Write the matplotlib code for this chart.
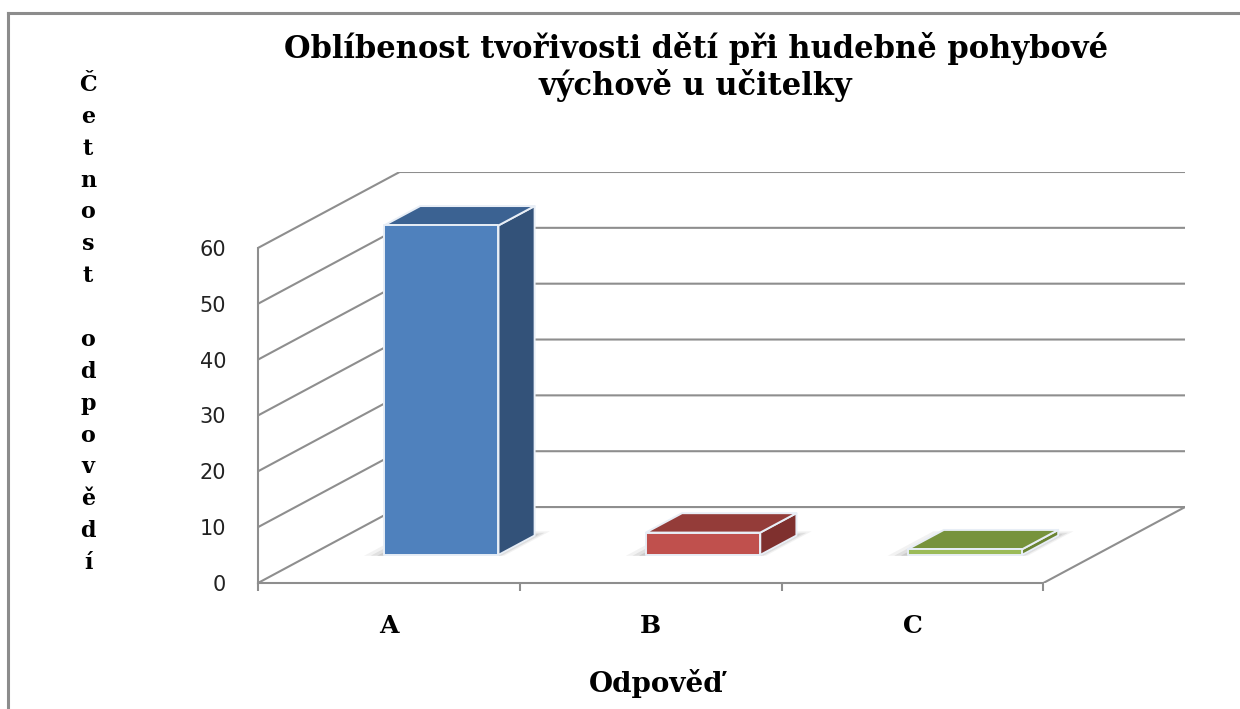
import matplotlib
matplotlib.use("Agg")
import matplotlib.pyplot as plt
from matplotlib.patches import Polygon
from matplotlib.lines import Line2D

# ---- data ----
categories = ["A", "B", "C"]
values = [59, 4, 1]
y_ticks = [0, 10, 20, 30, 40, 50, 60]
title = "Oblíbenost tvořivosti dětí při hudebně pohybové\nvýchově u učitelky"
x_label = "Odpověď"
y_label = "Četnost odpovědí"

front_colors = ["#4F81BD", "#C0504D", "#9BBB59"]
top_colors = ["#3B6292", "#943C39", "#77933C"]
side_colors = ["#335279", "#7F302E", "#6A8433"]

# ---- oblique 3D geometry (in data units) ----
DX = 0.541   # depth offset along x (category units) for full depth
DY = 13.6    # depth offset along y (value units) for full depth
Z0, Z1 = 0.37, 0.625   # bar depth range (fraction of floor depth)
BAR_W = 0.437
grid_c = "#8E8E8E"

def proj(x, y, z):
    return (x + z * DX, y + z * DY)

fig = plt.figure(figsize=(12.4, 7.09), dpi=100)
ax = fig.add_axes([258 / 1240, (709 - 583) / 709, (1185 - 258) / 1240, (583 - 172) / 709])
n = len(categories)
ymax = max(y_ticks)
ax.set_xlim(0, n + DX)
ax.set_ylim(0, ymax + DY)

# spines / ticks
for s in ["top", "right"]:
    ax.spines[s].set_visible(False)
for s in ["left", "bottom"]:
    ax.spines[s].set_color(grid_c)
    ax.spines[s].set_linewidth(1.5)
ax.spines["left"].set_bounds(0, ymax)
ax.spines["bottom"].set_bounds(0, n)
ax.set_yticks(y_ticks)
ax.set_yticklabels([str(v) for v in y_ticks], fontsize=15, color="#222222",
                   family="DejaVu Sans")
ax.tick_params(axis="y", length=0, pad=23)
ax.set_xticks(range(n + 1))
ax.set_xticklabels([])
ax.tick_params(axis="x", which="major", length=6, width=1.5, color=grid_c, direction="out")
ax.set_xticks([i + 0.5 for i in range(n)], minor=True)
ax.set_xticklabels(categories, minor=True, fontsize=18, fontweight="bold",
                   family="DejaVu Serif")
ax.tick_params(axis="x", which="minor", length=0, pad=22)

# walls / gridlines
for v in y_ticks:
    p0 = proj(0, v, 0)
    p1 = proj(0, v, 1)
    p2 = proj(n, v, 1)
    ax.plot([p0[0], p1[0], p2[0]], [p0[1], p1[1], p2[1]], color=grid_c, lw=1.5,
            solid_capstyle="butt", zorder=1)
# floor right edge
f0 = proj(n, 0, 0)
f1 = proj(n, 0, 1)
ax.plot([f0[0], f1[0]], [f0[1], f1[1]], color=grid_c, lw=1.5, zorder=1)

# bars
for i, (v, fc, tc, sc) in enumerate(zip(values, front_colors, top_colors, side_colors)):
    xl = i + 0.5 - BAR_W / 2
    xr = i + 0.5 + BAR_W / 2
    # soft shadow on the floor
    for k, a in enumerate([0.08, 0.12, 0.16]):
        g = 0.07 - k * 0.025
        shadow = [proj(xl - g, 0, Z0 - 0.012), proj(xr + g * 0.4, 0, Z0 - 0.012),
                  proj(xr + g * 0.4, 0, Z1 + g * 0.8), proj(xl - g, 0, Z1 + g * 0.8)]
        ax.add_patch(Polygon(shadow, closed=True, facecolor="#606060", alpha=a,
                             edgecolor="none", zorder=2))
    front = [proj(xl, 0, Z0), proj(xr, 0, Z0), proj(xr, v, Z0), proj(xl, v, Z0)]
    top = [proj(xl, v, Z0), proj(xr, v, Z0), proj(xr, v, Z1), proj(xl, v, Z1)]
    side = [proj(xr, 0, Z0), proj(xr, 0, Z1), proj(xr, v, Z1), proj(xr, v, Z0)]
    for poly, c in [(side, sc), (top, tc), (front, fc)]:
        ax.add_patch(Polygon(poly, closed=True, facecolor=c, edgecolor="#E8EEF6",
                             lw=1.4, joinstyle="round", zorder=3))

# texts
fig.text(0.561, 1 - 67 / 709, title, ha="center", va="center", fontsize=22,
         fontweight="bold", family="DejaVu Serif", linespacing=1.12)
fig.text(656 / 1240, 1 - 684 / 709, x_label, ha="center", va="center", fontsize=20,
         fontweight="bold", family="DejaVu Serif")
fig.text(88 / 1240, 1 - 324 / 709, "\n".join(list(y_label)), ha="center", va="center",
         fontsize=16, fontweight="bold", family="DejaVu Serif", linespacing=1.58)

# chart border
fig.add_artist(Line2D([8 / 1240, 8 / 1240], [0, 1 - 13 / 709], transform=fig.transFigure,
                      color="#8C8C8C", lw=2.2))
fig.add_artist(Line2D([8 / 1240, 1], [1 - 13 / 709, 1 - 13 / 709], transform=fig.transFigure,
                      color="#8C8C8C", lw=2.2))

fig.savefig("out.png", dpi=100)
